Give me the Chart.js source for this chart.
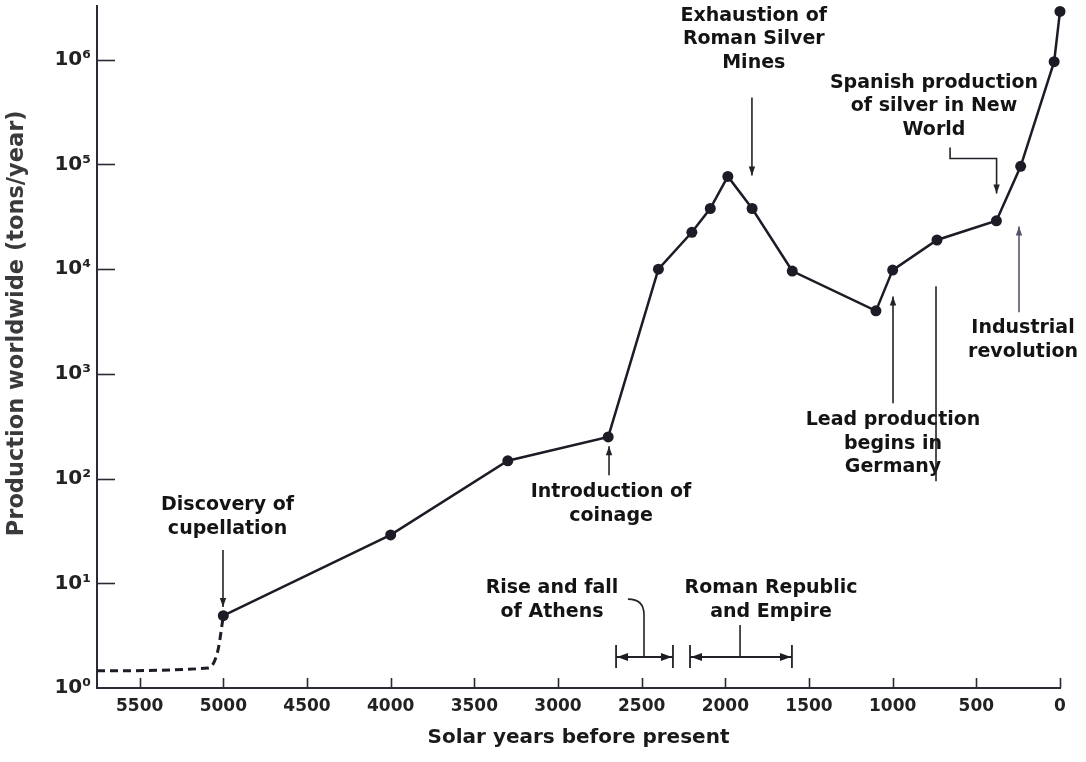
<!DOCTYPE html>
<html>
<head>
<meta charset="utf-8">
<script src="https://cdn.jsdelivr.net/npm/chart.js@4.4.1/dist/chart.umd.min.js"></script>
<style>
  html, body { margin: 0; padding: 0; background: #ffffff; }
  #wrap { width: 1086px; height: 762px; }
</style>
</head>
<body>
<div id="wrap"><canvas id="chart" width="1086" height="762"></canvas></div>
<script>
// Worldwide lead production, years before present vs tons per year
const years = [5000, 4000, 3300, 2700, 2400, 2200, 2090, 1985, 1840, 1600, 1100, 1000, 735, 380, 235, 35, 0];
const production = [4.9, 29, 148, 250, 10000, 22500, 38000, 77000, 38000, 9600, 4000, 9800, 19000, 29000, 96000, 960000, 2900000];

// Inferred level before cupellation (dashed)
const earlyYears = [5755, 5090, 5032, 5000];
const earlyProduction = [1.46, 1.55, 2.3, 4.9];

const xTicks = [5500, 5000, 4500, 4000, 3500, 3000, 2500, 2000, 1500, 1000, 500, 0];
const yTicks = [1, 10, 100, 1000, 10000, 100000, 1000000];
const yTickLabels = ['10⁰', '10¹', '10²', '10³', '10⁴', '10⁵', '10⁶'];

const xTitle = 'Solar years before present';
const yTitle = 'Production worldwide (tons/year)';

// Historical notes; positions given as [year, log10(tons/year)]
const notes = [
  { lines: ['Exhaustion of', 'Roman Silver', 'Mines'], at: [1830, 6.42] },
  { lines: ['Spanish production', 'of silver in New', 'World'], at: [753, 5.78] },
  { lines: ['Industrial', 'revolution'], at: [221, 3.435] },
  { lines: ['Lead production', 'begins in', 'Germany'], at: [998, 2.557] },
  { lines: ['Introduction of', 'coinage'], at: [2683, 1.87] },
  { lines: ['Discovery of', 'cupellation'], at: [4975, 1.746] },
  { lines: ['Rise and fall', 'of Athens'], at: [3036, 0.954] },
  { lines: ['Roman Republic', 'and Empire'], at: [1727, 0.954] }
];

const pointers = [
  { path: [[1841, 5.639], [1841, 4.895]], head: true },
  { path: [[657, 5.162], [657, 5.057], [379, 5.057], [379, 4.723]], head: true },
  { path: [[245, 3.588], [245, 4.408]], head: true, color: '#55556a' },
  { path: [[998, 2.719], [998, 3.74]], head: true },
  { path: [[2695, 2.032], [2695, 2.309]], head: true },
  { path: [[5002, 1.317], [5002, 0.773]], head: true },
  { path: [[1912, 0.296], [1912, 0.601]], head: false },
  { path: [[741, 3.836], [741, 1.975]], head: false }
];

// Time spans shown as |<--->| brackets
const spans = [
  { from: 2653, to: 2313, level: 0.296 },
  { from: 2211, to: 1602, level: 0.296 }
];

const ink = '#1c1c26';

const overlay = {
  id: 'overlay',
  afterDraw(chart) {
    const { ctx, chartArea } = chart;
    const xs = chart.scales.x, ys = chart.scales.y;
    const X = (yr) => xs.getPixelForValue(yr);
    const Y = (e) => ys.getPixelForValue(Math.pow(10, e));
    ctx.save();

    // inward tick marks
    ctx.strokeStyle = '#2b2b35';
    ctx.lineWidth = 1.6;
    xs.ticks.forEach((t) => {
      const px = Math.round(X(t.value)) + 0.5;
      ctx.beginPath();
      ctx.moveTo(px, chartArea.bottom);
      ctx.lineTo(px, chartArea.bottom - 10);
      ctx.stroke();
    });
    ys.ticks.forEach((t) => {
      if (t.value === 1) return;
      const py = Math.round(ys.getPixelForValue(t.value)) + 0.5;
      ctx.beginPath();
      ctx.moveTo(chartArea.left, py);
      ctx.lineTo(chartArea.left + 18, py);
      ctx.stroke();
    });

    // y axis title
    ctx.save();
    ctx.translate(17, Y(3.483));
    ctx.rotate(-Math.PI / 2);
    ctx.font = 'bold 22.5px "DejaVu Sans"';
    ctx.fillStyle = '#3a3a3e';
    ctx.textAlign = 'center';
    ctx.textBaseline = 'middle';
    ctx.fillText(yTitle, 0, 0);
    ctx.restore();

    // notes
    ctx.font = 'bold 19px "DejaVu Sans"';
    ctx.fillStyle = '#141414';
    ctx.textAlign = 'center';
    ctx.textBaseline = 'middle';
    notes.forEach((n) => {
      const cx = X(n.at[0]), cy = Y(n.at[1]);
      n.lines.forEach((s, i) => ctx.fillText(s, cx, cy + i * 23.5));
    });

    const headAt = (x1, y1, x2, y2, len, half) => {
      const a = Math.atan2(y2 - y1, x2 - x1);
      ctx.beginPath();
      ctx.moveTo(x2, y2);
      ctx.lineTo(x2 - len * Math.cos(a) + half * Math.sin(a), y2 - len * Math.sin(a) - half * Math.cos(a));
      ctx.lineTo(x2 - len * Math.cos(a) - half * Math.sin(a), y2 - len * Math.sin(a) + half * Math.cos(a));
      ctx.closePath();
      ctx.fill();
    };

    // pointer arrows
    pointers.forEach((p) => {
      const c = p.color || '#222228';
      ctx.strokeStyle = c;
      ctx.fillStyle = c;
      ctx.lineWidth = 1.6;
      const pts = p.path.map(([yr, e]) => [X(yr), Y(e)]);
      ctx.beginPath();
      pts.forEach(([px, py], i) => (i ? ctx.lineTo(px, py) : ctx.moveTo(px, py)));
      ctx.stroke();
      if (p.head) {
        const [a, b] = [pts[pts.length - 2], pts[pts.length - 1]];
        headAt(a[0], a[1], b[0], b[1], 9, 3.2);
      }
    });

    // Athens leader, bending towards its label
    ctx.strokeStyle = '#222228';
    ctx.lineWidth = 1.6;
    ctx.beginPath();
    ctx.moveTo(X(2486), Y(0.296));
    ctx.lineTo(X(2486), Y(0.7));
    ctx.quadraticCurveTo(X(2486), Y(0.849), X(2582), Y(0.849));
    ctx.stroke();

    // span brackets
    ctx.fillStyle = '#1c1c22';
    spans.forEach((s) => {
      const x1 = X(s.from), x2 = X(s.to), yy = Y(s.level);
      const top = Y(s.level + 0.114), bot = Y(s.level - 0.105);
      ctx.lineWidth = 1.8;
      ctx.beginPath();
      ctx.moveTo(x1, top); ctx.lineTo(x1, bot);
      ctx.moveTo(x2, top); ctx.lineTo(x2, bot);
      ctx.moveTo(x1, yy); ctx.lineTo(x2, yy);
      ctx.stroke();
      headAt(x1 + 12, yy, x1 + 1, yy, 11, 4);
      headAt(x2 - 12, yy, x2 - 1, yy, 11, 4);
    });

    ctx.restore();
  }
};

const tickFont = { family: 'DejaVu Sans', weight: 'bold', size: 17 };

new Chart(document.getElementById('chart'), {
  type: 'line',
  data: {
    datasets: [
      {
        data: years.map((yr, i) => ({ x: yr, y: production[i] })),
        borderColor: ink,
        backgroundColor: ink,
        borderWidth: 2.5,
        pointRadius: 5.5,
        pointBackgroundColor: ink,
        pointBorderWidth: 0,
        tension: 0,
        clip: false,
        order: 1
      },
      {
        data: earlyYears.map((yr, i) => ({ x: yr, y: earlyProduction[i] })),
        borderColor: ink,
        borderWidth: 3,
        borderDash: [8, 5],
        pointRadius: 0,
        cubicInterpolationMode: 'monotone',
        clip: false,
        order: 2
      }
    ]
  },
  options: {
    responsive: false,
    animation: false,
    events: [],
    layout: { padding: { top: 5, right: 26, left: 0, bottom: 0 } },
    plugins: { legend: { display: false }, tooltip: { enabled: false } },
    scales: {
      x: {
        type: 'linear',
        position: 'bottom',
        reverse: true,
        min: 0,
        max: 5755,
        afterBuildTicks: (s) => { s.ticks = xTicks.map((v) => ({ value: v })); },
        afterFit: (s) => { s.height = 74; s.paddingLeft = 0; s.paddingRight = 0; },
        ticks: {
          autoSkip: false,
          maxRotation: 0,
          color: '#222',
          font: tickFont,
          padding: 8,
          callback: (v) => String(v)
        },
        grid: { display: false, drawTicks: false },
        border: { display: true, color: '#2b2b35', width: 2 },
        title: {
          display: true,
          text: xTitle,
          color: '#1a1a1a',
          font: { family: 'DejaVu Sans', weight: 'bold', size: 20 },
          padding: { top: 0, bottom: 12 }
        }
      },
      y: {
        type: 'logarithmic',
        min: 1,
        max: 3300000,
        afterBuildTicks: (s) => { s.ticks = yTicks.map((v) => ({ value: v })); },
        afterFit: (s) => { s.width = 97; s.paddingTop = 0; s.paddingBottom = 0; },
        ticks: {
          autoSkip: false,
          color: '#222',
          font: { family: 'DejaVu Sans', weight: 'bold', size: 20 },
          padding: 6,
          callback: (v) => { const i = yTicks.indexOf(v); return i >= 0 ? yTickLabels[i] : ''; }
        },
        grid: { display: false, drawTicks: false },
        border: { display: true, color: '#2b2b35', width: 2 }
      }
    }
  },
  plugins: [overlay]
});
</script>
</body>
</html>
